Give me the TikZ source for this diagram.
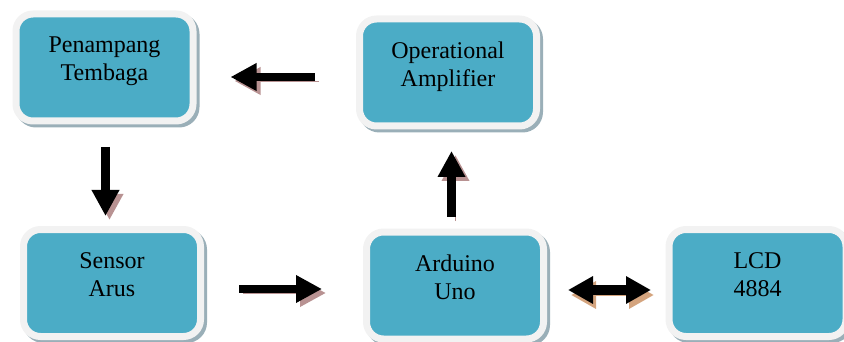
\documentclass[tikz,border=0pt]{standalone}
\usepackage{fontspec}
\setmainfont{Liberation Serif}
\usetikzlibrary{arrows.meta}
\definecolor{boxteal}{HTML}{4BACC6}
\definecolor{boxrim}{HTML}{F2F2F2}
\definecolor{rimshadow}{HTML}{9AAFB8}
\definecolor{arrowshadow}{HTML}{B89292}
\definecolor{tanshadow}{HTML}{D4A47E}

\begin{document}
\begin{tikzpicture}[x=1pt, y=-1pt]
  \tikzstyle{block} = [rectangle, draw=boxrim, line width=7pt, fill=boxteal, rounded corners=17pt, outer sep=0pt, minimum width=177pt, minimum height=107pt, align=center, font=\fontsize{24}{28}\selectfont, text depth=17pt, preaction={draw=rimshadow, fill=rimshadow, transform canvas={shift={(3pt,-3pt)}}}]
  \tikzstyle{blk} = [line width=8.5pt, -{Triangle[length=26pt, width=26pt]}, preaction={draw=arrowshadow, transform canvas={shift={(4pt,-4pt)}}}]
  \tikzstyle{blkboth} = [line width=10pt, {Triangle[length=25pt, width=26pt]}-{Triangle[length=25pt, width=26pt]}, preaction={draw=tanshadow, transform canvas={shift={(3pt,-5pt)}}}]

  \useasboundingbox (0,0) rectangle (844,342);

  \node [block] (pen) at (104.5,67.5) {Penampang\\Tembaga};
  \node [block] (op) at (448,72.5) {Operational\\Amplifier};
  \node [block] (sens) at (112,283) {Sensor\\Arus};
  \node [block] (ard) at (455,285.5) {Arduino\\Uno};
  \node [block] (lcd) at (757.5,283) {LCD\\4884};

  \draw [blk, shorten <=44.5pt, shorten >=37.5pt] ([yshift=-4.5pt]op.west) -- ([yshift=-4.5pt]op.west -| pen.east);
  \draw [blk, shorten <=26pt, shorten >=13.5pt] ([xshift=1pt]pen.south) -- ([xshift=1pt]pen.south |- sens.north);
  \draw [blk, shorten <=38.5pt, shorten >=44.5pt] ([yshift=-6pt]sens.east) -- ([yshift=-6pt]sens.east -| ard.west);
  \draw [blk, shorten <=15pt, shorten >=25pt] ([xshift=-3.5pt]ard.north) -- ([xshift=-3.5pt]ard.north |- op.south);
  \draw [blkboth, shorten <=24.5pt, shorten >=18pt] ([yshift=-4.5pt]ard.east) -- ([yshift=-4.5pt]ard.east -| lcd.west);
\end{tikzpicture}
\end{document}
